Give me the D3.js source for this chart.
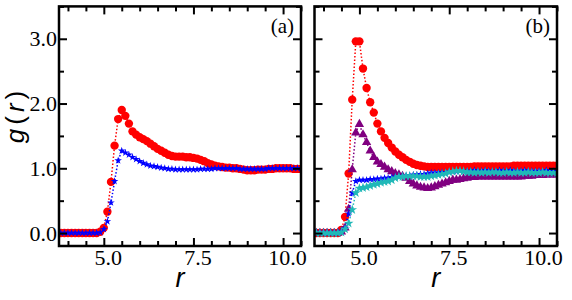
<!DOCTYPE html>
<html>
<head>
    <title>g(r) two panels</title>
    <script src="https://d3js.org/d3.v7.min.js"></script>
    <style>
        body { margin: 0; background: #fff; }
        svg { display: block; }
        .tick line { stroke: #000; stroke-width: 2; }
    </style>
</head>
<body>
<svg id="chart" width="572" height="300"></svg>
<script>
    // radial distance grid (shared by all curves)
    var r = [3.8,3.9,4.0,4.1,4.2,4.3,4.4,4.5,4.6,4.7,4.8,4.9,
             5.0,5.1,5.2,5.3,5.4,5.5,5.6,5.7,5.8,5.9,
             6.0,6.1,6.2,6.3,6.4,6.5,6.6,6.7,6.8,6.9,
             7.0,7.1,7.2,7.3,7.4,7.5,7.6,7.7,7.8,7.9,
             8.0,8.1,8.2,8.3,8.4,8.5,8.6,8.7,8.8,8.9,
             9.0,9.1,9.2,9.3,9.4,9.5,9.6,9.7,9.8,9.9,
             10.0,10.1,10.2,10.3,10.4,10.5];

    // panel (a)
    var aRed = [0,0,0,0,0,0,0,0,0,0,0,0.02,
                0.08,0.33,0.79,1.35,1.76,1.90,1.81,1.69,1.57,1.52,
                1.48,1.45,1.42,1.38,1.34,1.30,1.27,1.24,1.21,1.19,
                1.18,1.18,1.18,1.17,1.17,1.16,1.15,1.13,1.11,1.08,
                1.06,1.04,1.03,1.02,1.01,1.01,1.00,1.00,0.99,0.98,
                0.97,0.97,0.97,0.98,0.98,0.98,0.99,0.99,1.00,1.00,
                1.00,1.00,1.00,0.99,0.99,0.99];
    var aBlue = [0,0,0,0,0,0,0,0,0,0,0,0.01,
                 0.06,0.18,0.47,0.80,1.12,1.27,1.24,1.21,1.17,1.14,
                 1.11,1.08,1.06,1.04,1.03,1.02,1.01,1.00,0.99,0.99,
                 0.98,0.98,0.98,0.98,0.98,0.98,0.98,0.99,0.99,0.99,
                 0.99,1.00,1.00,1.00,1.00,1.00,1.00,1.00,0.99,0.99,
                 0.99,0.99,0.99,0.99,0.99,0.99,1.00,1.00,1.00,1.00,
                 1.00,1.00,1.00,1.00,1.00,1.00];

    // panel (b)
    var bRed = [0,0,0,0,0,0,0,0.05,0.25,0.92,2.06,2.96,
                2.96,2.54,2.24,2.02,1.86,1.69,1.57,1.47,1.39,1.32,
                1.26,1.21,1.17,1.13,1.10,1.07,1.05,1.04,1.03,1.02,
                1.02,1.02,1.02,1.02,1.02,1.02,1.02,1.02,1.02,1.02,
                1.02,1.02,1.03,1.03,1.03,1.03,1.03,1.03,1.03,1.03,
                1.03,1.03,1.03,1.04,1.04,1.04,1.04,1.04,1.04,1.04,
                1.04,1.04,1.04,1.04,1.04,1.04];
    var bPurple = [0,0,0,0,0,0,0,0.02,0.08,0.37,0.98,1.55,
                   1.68,1.52,1.40,1.27,1.17,1.10,1.06,1.02,0.98,0.95,
                   0.92,0.90,0.88,0.85,0.80,0.76,0.73,0.71,0.70,0.69,
                   0.70,0.72,0.74,0.76,0.78,0.80,0.82,0.82,0.83,0.84,
                   0.85,0.86,0.86,0.87,0.87,0.87,0.87,0.87,0.87,0.87,
                   0.87,0.87,0.87,0.87,0.87,0.87,0.88,0.88,0.88,0.89,
                   0.89,0.89,0.90,0.90,0.90,0.90];
    var bBlue = [0,0,0,0,0,0,0,0.02,0.08,0.30,0.62,0.80,
                 0.82,0.82,0.82,0.83,0.83,0.84,0.84,0.85,0.85,0.86,
                 0.87,0.87,0.88,0.88,0.89,0.90,0.90,0.91,0.91,0.92,
                 0.93,0.93,0.93,0.94,0.94,0.95,0.95,0.95,0.96,0.96,
                 0.96,0.96,0.97,0.96,0.96,0.97,0.96,0.96,0.96,0.97,
                 0.96,0.96,0.97,0.96,0.96,0.96,0.97,0.96,0.96,0.96,
                 0.96,0.96,0.97,0.96,0.96,0.96];
    var bCyan = [0,0,0,0,0,0,0,0.01,0.06,0.15,0.36,0.62,
                 0.69,0.70,0.71,0.73,0.75,0.76,0.78,0.79,0.80,0.82,
                 0.85,0.87,0.87,0.88,0.88,0.88,0.88,0.87,0.87,0.87,
                 0.88,0.89,0.90,0.91,0.92,0.94,0.95,0.96,0.96,0.95,
                 0.94,0.94,0.93,0.94,0.93,0.94,0.93,0.94,0.94,0.93,
                 0.93,0.94,0.93,0.93,0.94,0.93,0.93,0.94,0.93,0.93,
                 0.93,0.94,0.93,0.93,0.93,0.93];

    // ticks
    var xMajor = [5.0, 7.5, 10.0];
    var xMinor = [4.0,4.5,5.5,6.0,6.5,7.0,8.0,8.5,9.0,9.5,10.5];
    var yMajor = [0.0, 1.0, 2.0, 3.0];
    var yMinor = [0.5, 1.5, 2.5, 3.5];

    var serif = '"Liberation Serif", "Times New Roman", serif';
    var sans = '"Liberation Sans", Arial, sans-serif';

    var svg = d3.select('#chart');
    var y = d3.scaleLinear().domain([-0.2, 3.5]).range([246, 6.4]);

    var panels = [
        {id: 'a', label: '(a)', left: 59, right: 301, yLabels: true,
         series: [
            {v: aRed, color: '#ff0000', shape: d3.symbolCircle, size: 55},
            {v: aBlue, color: '#0000ff', shape: d3.symbolStar, size: 18}
         ]},
        {id: 'b', label: '(b)', left: 314.5, right: 557, yLabels: false,
         series: [
            {v: bRed, color: '#ff0000', shape: d3.symbolCircle, size: 55},
            {v: bPurple, color: '#800080', shape: d3.symbolTriangle, size: 38},
            {v: bBlue, color: '#0000ff', shape: d3.symbolStar, size: 18},
            {v: bCyan, color: '#20b8b8', shape: d3.symbolStar, size: 30}
         ]}
    ];

    function styleLabels(sel) {
        sel.selectAll('text')
            .style('font-family', serif)
            .style('font-size', '22px')
            .attr('fill', '#000');
    }

    function drawAxes(g, x, p) {
        var top = y.range()[1], bottom = y.range()[0];
        var noLab = function() { return ''; };

        // x axes, ticks pointing inward
        var xb = g.append('g').attr('transform', 'translate(0,' + bottom + ')')
            .call(d3.axisBottom(x).tickValues(xMajor).tickSize(-8).tickPadding(3).tickFormat(d3.format('.1f')));
        styleLabels(xb);
        xb.selectAll('text').attr('dx', 4);
        g.append('g').attr('transform', 'translate(0,' + bottom + ')')
            .call(d3.axisBottom(x).tickValues(xMinor).tickSize(-5).tickFormat(noLab));
        g.append('g').attr('transform', 'translate(0,' + top + ')')
            .call(d3.axisTop(x).tickValues(xMajor).tickSize(-8).tickFormat(noLab));
        g.append('g').attr('transform', 'translate(0,' + top + ')')
            .call(d3.axisTop(x).tickValues(xMinor).tickSize(-5).tickFormat(noLab));

        // y axes
        var yl = g.append('g').attr('transform', 'translate(' + p.left + ',0)')
            .call(d3.axisLeft(y).tickValues(yMajor).tickSize(-8).tickPadding(2)
                .tickFormat(p.yLabels ? d3.format('.1f') : noLab));
        styleLabels(yl);
        g.append('g').attr('transform', 'translate(' + p.left + ',0)')
            .call(d3.axisLeft(y).tickValues(yMinor).tickSize(-5).tickFormat(noLab));
        g.append('g').attr('transform', 'translate(' + p.right + ',0)')
            .call(d3.axisRight(y).tickValues(yMajor).tickSize(-8).tickFormat(noLab));
        g.append('g').attr('transform', 'translate(' + p.right + ',0)')
            .call(d3.axisRight(y).tickValues(yMinor).tickSize(-5).tickFormat(noLab));

        g.selectAll('.domain').remove();

        // frame
        g.append('rect')
            .attr('x', p.left).attr('y', top)
            .attr('width', p.right - p.left).attr('height', bottom - top)
            .attr('fill', 'none').attr('stroke', '#000').attr('stroke-width', 2.5);
    }

    panels.forEach(function(p) {
        var x = d3.scaleLinear().domain([3.75, 10.5]).range([p.left, p.right]);
        var g = svg.append('g');

        svg.append('clipPath').attr('id', 'clip-' + p.id)
            .append('rect')
            .attr('x', p.left).attr('y', y.range()[1])
            .attr('width', p.right - p.left).attr('height', y.range()[0] - y.range()[1]);

        var plot = g.append('g').attr('clip-path', 'url(#clip-' + p.id + ')');
        var line = d3.line()
            .x(function(d, i) { return x(r[i]); })
            .y(function(d) { return y(d); });

        p.series.forEach(function(s) {
            plot.append('path')
                .datum(s.v)
                .attr('d', line)
                .attr('fill', 'none')
                .attr('stroke', s.color)
                .attr('stroke-width', 1.5)
                .attr('stroke-dasharray', '1.5,2');

            plot.selectAll(null)
                .data(s.v)
                .enter().append('path')
                .attr('transform', function(d, i) { return 'translate(' + x(r[i]) + ',' + y(d) + ')'; })
                .attr('d', d3.symbol().type(s.shape).size(s.size))
                .attr('fill', s.color);
        });

        drawAxes(g, x, p);

        // panel label
        g.append('text')
            .attr('x', p.right - 7).attr('y', 33)
            .attr('text-anchor', 'end')
            .style('font-family', serif)
            .style('font-size', '21px')
            .text(p.label);

        // x axis title
        g.append('text')
            .attr('x', (p.left + p.right) / 2).attr('y', 287)
            .attr('text-anchor', 'middle')
            .style('font-family', sans)
            .style('font-style', 'italic')
            .style('font-size', '27px')
            .text('r');
    });

    // y axis title
    svg.append('text')
        .attr('transform', 'translate(24,115) rotate(-90)')
        .attr('text-anchor', 'middle')
        .style('font-family', sans)
        .style('font-size', '26px')
        .style('letter-spacing', '4px')
        .html('<tspan font-style="italic">g</tspan>(<tspan font-style="italic">r</tspan>)');
</script>
</body>
</html>
